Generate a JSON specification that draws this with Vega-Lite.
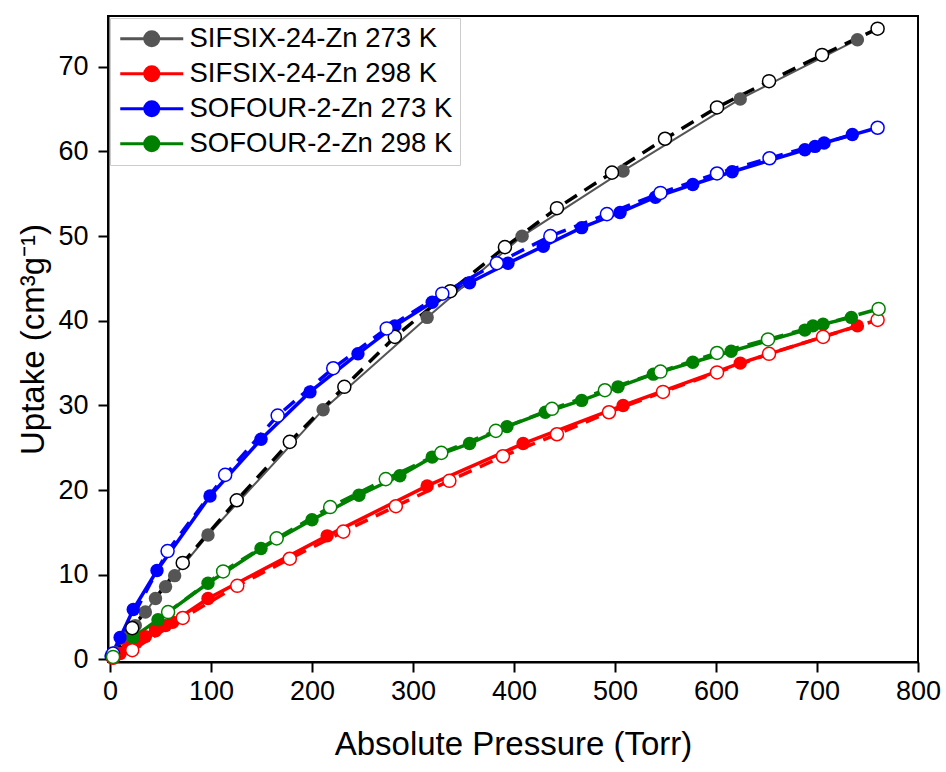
{
  "$schema": "https://vega.github.io/schema/vega-lite/v6.json",
  "width": 810,
  "height": 646,
  "autosize": {"type": "none"},
  "padding": {"left": 108, "top": 16, "right": 28, "bottom": 110},
  "background": "white",
  "config": {
    "font": "Liberation Sans",
    "view": {"stroke": "black", "strokeWidth": 2},
    "axis": {
      "grid": false, "domainColor": "black", "domainWidth": 2,
      "tickColor": "black", "tickWidth": 2, "tickSize": 10, "labelFlush": false,
      "labelFontSize": 27, "labelColor": "black", "labelFont": "Liberation Sans",
      "titleFontSize": 33, "titleColor": "black", "titleFont": "Liberation Sans", "titleFontWeight": "normal"
    },
    "legend": {
      "orient": "top-left", "offset": 2, "title": null,
      "labelFontSize": 27.5, "labelFont": "Liberation Sans", "labelColor": "black", "labelLimit": 500,
      "strokeColor": "#cccccc", "fillColor": "white", "padding": 7,
      "symbolType": "M-1,0H5M1.333,0A0.667,0.667 0 1,1 2.667,0A0.667,0.667 0 1,1 1.333,0Z",
      "symbolSize": 441, "symbolStrokeWidth": 3, "labelOffset": 45, "rowPadding": 6
    }
  },
  "data": {"values": [
    {"series": "SIFSIX-24-Zn 273 K", "branch": "ads", "pressure": 5, "uptake": 0.8},
    {"series": "SIFSIX-24-Zn 273 K", "branch": "ads", "pressure": 15, "uptake": 2.5},
    {"series": "SIFSIX-24-Zn 273 K", "branch": "ads", "pressure": 25, "uptake": 4.0},
    {"series": "SIFSIX-24-Zn 273 K", "branch": "ads", "pressure": 35, "uptake": 5.6},
    {"series": "SIFSIX-24-Zn 273 K", "branch": "ads", "pressure": 45, "uptake": 7.2},
    {"series": "SIFSIX-24-Zn 273 K", "branch": "ads", "pressure": 55, "uptake": 8.6},
    {"series": "SIFSIX-24-Zn 273 K", "branch": "ads", "pressure": 64, "uptake": 9.9},
    {"series": "SIFSIX-24-Zn 273 K", "branch": "ads", "pressure": 97, "uptake": 14.7},
    {"series": "SIFSIX-24-Zn 273 K", "branch": "ads", "pressure": 211, "uptake": 29.5},
    {"series": "SIFSIX-24-Zn 273 K", "branch": "ads", "pressure": 314, "uptake": 40.4},
    {"series": "SIFSIX-24-Zn 273 K", "branch": "ads", "pressure": 408, "uptake": 50.0},
    {"series": "SIFSIX-24-Zn 273 K", "branch": "ads", "pressure": 508, "uptake": 57.7},
    {"series": "SIFSIX-24-Zn 273 K", "branch": "ads", "pressure": 624, "uptake": 66.2},
    {"series": "SIFSIX-24-Zn 273 K", "branch": "ads", "pressure": 740, "uptake": 73.2},
    {"series": "SIFSIX-24-Zn 273 K", "branch": "des", "pressure": 3, "uptake": 0.3},
    {"series": "SIFSIX-24-Zn 273 K", "branch": "des", "pressure": 22, "uptake": 3.7},
    {"series": "SIFSIX-24-Zn 273 K", "branch": "des", "pressure": 72, "uptake": 11.4},
    {"series": "SIFSIX-24-Zn 273 K", "branch": "des", "pressure": 125.5, "uptake": 18.8},
    {"series": "SIFSIX-24-Zn 273 K", "branch": "des", "pressure": 178, "uptake": 25.7},
    {"series": "SIFSIX-24-Zn 273 K", "branch": "des", "pressure": 232, "uptake": 32.2},
    {"series": "SIFSIX-24-Zn 273 K", "branch": "des", "pressure": 282, "uptake": 38.1},
    {"series": "SIFSIX-24-Zn 273 K", "branch": "des", "pressure": 337, "uptake": 43.5},
    {"series": "SIFSIX-24-Zn 273 K", "branch": "des", "pressure": 391, "uptake": 48.7},
    {"series": "SIFSIX-24-Zn 273 K", "branch": "des", "pressure": 442.5, "uptake": 53.3},
    {"series": "SIFSIX-24-Zn 273 K", "branch": "des", "pressure": 497, "uptake": 57.5},
    {"series": "SIFSIX-24-Zn 273 K", "branch": "des", "pressure": 549.5, "uptake": 61.5},
    {"series": "SIFSIX-24-Zn 273 K", "branch": "des", "pressure": 601, "uptake": 65.2},
    {"series": "SIFSIX-24-Zn 273 K", "branch": "des", "pressure": 652.5, "uptake": 68.3},
    {"series": "SIFSIX-24-Zn 273 K", "branch": "des", "pressure": 705, "uptake": 71.4},
    {"series": "SIFSIX-24-Zn 273 K", "branch": "des", "pressure": 760, "uptake": 74.5},
    {"series": "SIFSIX-24-Zn 298 K", "branch": "ads", "pressure": 3, "uptake": 0.2},
    {"series": "SIFSIX-24-Zn 298 K", "branch": "ads", "pressure": 10, "uptake": 0.7},
    {"series": "SIFSIX-24-Zn 298 K", "branch": "ads", "pressure": 18, "uptake": 1.4},
    {"series": "SIFSIX-24-Zn 298 K", "branch": "ads", "pressure": 26, "uptake": 2.0},
    {"series": "SIFSIX-24-Zn 298 K", "branch": "ads", "pressure": 35, "uptake": 2.7},
    {"series": "SIFSIX-24-Zn 298 K", "branch": "ads", "pressure": 45, "uptake": 3.4},
    {"series": "SIFSIX-24-Zn 298 K", "branch": "ads", "pressure": 55, "uptake": 4.0},
    {"series": "SIFSIX-24-Zn 298 K", "branch": "ads", "pressure": 62, "uptake": 4.4},
    {"series": "SIFSIX-24-Zn 298 K", "branch": "ads", "pressure": 97, "uptake": 7.2},
    {"series": "SIFSIX-24-Zn 298 K", "branch": "ads", "pressure": 215, "uptake": 14.6},
    {"series": "SIFSIX-24-Zn 298 K", "branch": "ads", "pressure": 314, "uptake": 20.5},
    {"series": "SIFSIX-24-Zn 298 K", "branch": "ads", "pressure": 409, "uptake": 25.5},
    {"series": "SIFSIX-24-Zn 298 K", "branch": "ads", "pressure": 508, "uptake": 30.0},
    {"series": "SIFSIX-24-Zn 298 K", "branch": "ads", "pressure": 624, "uptake": 35.0},
    {"series": "SIFSIX-24-Zn 298 K", "branch": "ads", "pressure": 740, "uptake": 39.4},
    {"series": "SIFSIX-24-Zn 298 K", "branch": "des", "pressure": 3, "uptake": 0.2},
    {"series": "SIFSIX-24-Zn 298 K", "branch": "des", "pressure": 22, "uptake": 1.1},
    {"series": "SIFSIX-24-Zn 298 K", "branch": "des", "pressure": 72, "uptake": 4.9},
    {"series": "SIFSIX-24-Zn 298 K", "branch": "des", "pressure": 126, "uptake": 8.7},
    {"series": "SIFSIX-24-Zn 298 K", "branch": "des", "pressure": 178, "uptake": 11.9},
    {"series": "SIFSIX-24-Zn 298 K", "branch": "des", "pressure": 231, "uptake": 15.1},
    {"series": "SIFSIX-24-Zn 298 K", "branch": "des", "pressure": 283, "uptake": 18.1},
    {"series": "SIFSIX-24-Zn 298 K", "branch": "des", "pressure": 336, "uptake": 21.1},
    {"series": "SIFSIX-24-Zn 298 K", "branch": "des", "pressure": 389, "uptake": 24.0},
    {"series": "SIFSIX-24-Zn 298 K", "branch": "des", "pressure": 442.5, "uptake": 26.6},
    {"series": "SIFSIX-24-Zn 298 K", "branch": "des", "pressure": 494, "uptake": 29.2},
    {"series": "SIFSIX-24-Zn 298 K", "branch": "des", "pressure": 547.5, "uptake": 31.6},
    {"series": "SIFSIX-24-Zn 298 K", "branch": "des", "pressure": 601, "uptake": 33.9},
    {"series": "SIFSIX-24-Zn 298 K", "branch": "des", "pressure": 652.5, "uptake": 36.1},
    {"series": "SIFSIX-24-Zn 298 K", "branch": "des", "pressure": 706, "uptake": 38.1},
    {"series": "SIFSIX-24-Zn 298 K", "branch": "des", "pressure": 760, "uptake": 40.1},
    {"series": "SOFOUR-2-Zn 273 K", "branch": "ads", "pressure": 1, "uptake": 0.4},
    {"series": "SOFOUR-2-Zn 273 K", "branch": "ads", "pressure": 10, "uptake": 2.6},
    {"series": "SOFOUR-2-Zn 273 K", "branch": "ads", "pressure": 23, "uptake": 5.9},
    {"series": "SOFOUR-2-Zn 273 K", "branch": "ads", "pressure": 46.5, "uptake": 10.5},
    {"series": "SOFOUR-2-Zn 273 K", "branch": "ads", "pressure": 99, "uptake": 19.3},
    {"series": "SOFOUR-2-Zn 273 K", "branch": "ads", "pressure": 149.5, "uptake": 26.0},
    {"series": "SOFOUR-2-Zn 273 K", "branch": "ads", "pressure": 198, "uptake": 31.6},
    {"series": "SOFOUR-2-Zn 273 K", "branch": "ads", "pressure": 245.5, "uptake": 36.1},
    {"series": "SOFOUR-2-Zn 273 K", "branch": "ads", "pressure": 282, "uptake": 39.4},
    {"series": "SOFOUR-2-Zn 273 K", "branch": "ads", "pressure": 319, "uptake": 42.2},
    {"series": "SOFOUR-2-Zn 273 K", "branch": "ads", "pressure": 356, "uptake": 44.5},
    {"series": "SOFOUR-2-Zn 273 K", "branch": "ads", "pressure": 394, "uptake": 46.8},
    {"series": "SOFOUR-2-Zn 273 K", "branch": "ads", "pressure": 429, "uptake": 48.8},
    {"series": "SOFOUR-2-Zn 273 K", "branch": "ads", "pressure": 467, "uptake": 51.0},
    {"series": "SOFOUR-2-Zn 273 K", "branch": "ads", "pressure": 505, "uptake": 52.8},
    {"series": "SOFOUR-2-Zn 273 K", "branch": "ads", "pressure": 540, "uptake": 54.6},
    {"series": "SOFOUR-2-Zn 273 K", "branch": "ads", "pressure": 577, "uptake": 56.1},
    {"series": "SOFOUR-2-Zn 273 K", "branch": "ads", "pressure": 616, "uptake": 57.6},
    {"series": "SOFOUR-2-Zn 273 K", "branch": "ads", "pressure": 688, "uptake": 60.2},
    {"series": "SOFOUR-2-Zn 273 K", "branch": "ads", "pressure": 698, "uptake": 60.6},
    {"series": "SOFOUR-2-Zn 273 K", "branch": "ads", "pressure": 707, "uptake": 61.0},
    {"series": "SOFOUR-2-Zn 273 K", "branch": "ads", "pressure": 735, "uptake": 62.0},
    {"series": "SOFOUR-2-Zn 273 K", "branch": "des", "pressure": 3, "uptake": 0.7},
    {"series": "SOFOUR-2-Zn 273 K", "branch": "des", "pressure": 57, "uptake": 12.8},
    {"series": "SOFOUR-2-Zn 273 K", "branch": "des", "pressure": 114, "uptake": 21.8},
    {"series": "SOFOUR-2-Zn 273 K", "branch": "des", "pressure": 166, "uptake": 28.8},
    {"series": "SOFOUR-2-Zn 273 K", "branch": "des", "pressure": 221, "uptake": 34.4},
    {"series": "SOFOUR-2-Zn 273 K", "branch": "des", "pressure": 274, "uptake": 39.1},
    {"series": "SOFOUR-2-Zn 273 K", "branch": "des", "pressure": 329, "uptake": 43.2},
    {"series": "SOFOUR-2-Zn 273 K", "branch": "des", "pressure": 383, "uptake": 46.8},
    {"series": "SOFOUR-2-Zn 273 K", "branch": "des", "pressure": 436, "uptake": 50.0},
    {"series": "SOFOUR-2-Zn 273 K", "branch": "des", "pressure": 492, "uptake": 52.6},
    {"series": "SOFOUR-2-Zn 273 K", "branch": "des", "pressure": 545, "uptake": 55.1},
    {"series": "SOFOUR-2-Zn 273 K", "branch": "des", "pressure": 601, "uptake": 57.4},
    {"series": "SOFOUR-2-Zn 273 K", "branch": "des", "pressure": 653, "uptake": 59.2},
    {"series": "SOFOUR-2-Zn 273 K", "branch": "des", "pressure": 760, "uptake": 62.8},
    {"series": "SOFOUR-2-Zn 298 K", "branch": "ads", "pressure": 3, "uptake": 0.3},
    {"series": "SOFOUR-2-Zn 298 K", "branch": "ads", "pressure": 23, "uptake": 2.6},
    {"series": "SOFOUR-2-Zn 298 K", "branch": "ads", "pressure": 47.5, "uptake": 4.7},
    {"series": "SOFOUR-2-Zn 298 K", "branch": "ads", "pressure": 97, "uptake": 9.0},
    {"series": "SOFOUR-2-Zn 298 K", "branch": "ads", "pressure": 149.5, "uptake": 13.1},
    {"series": "SOFOUR-2-Zn 298 K", "branch": "ads", "pressure": 200, "uptake": 16.5},
    {"series": "SOFOUR-2-Zn 298 K", "branch": "ads", "pressure": 246.5, "uptake": 19.4},
    {"series": "SOFOUR-2-Zn 298 K", "branch": "ads", "pressure": 287, "uptake": 21.7},
    {"series": "SOFOUR-2-Zn 298 K", "branch": "ads", "pressure": 319, "uptake": 23.9},
    {"series": "SOFOUR-2-Zn 298 K", "branch": "ads", "pressure": 356, "uptake": 25.5},
    {"series": "SOFOUR-2-Zn 298 K", "branch": "ads", "pressure": 393, "uptake": 27.5},
    {"series": "SOFOUR-2-Zn 298 K", "branch": "ads", "pressure": 431, "uptake": 29.2},
    {"series": "SOFOUR-2-Zn 298 K", "branch": "ads", "pressure": 467, "uptake": 30.6},
    {"series": "SOFOUR-2-Zn 298 K", "branch": "ads", "pressure": 503, "uptake": 32.2},
    {"series": "SOFOUR-2-Zn 298 K", "branch": "ads", "pressure": 538, "uptake": 33.7},
    {"series": "SOFOUR-2-Zn 298 K", "branch": "ads", "pressure": 577, "uptake": 35.1},
    {"series": "SOFOUR-2-Zn 298 K", "branch": "ads", "pressure": 615, "uptake": 36.4},
    {"series": "SOFOUR-2-Zn 298 K", "branch": "ads", "pressure": 688, "uptake": 38.9},
    {"series": "SOFOUR-2-Zn 298 K", "branch": "ads", "pressure": 696, "uptake": 39.4},
    {"series": "SOFOUR-2-Zn 298 K", "branch": "ads", "pressure": 706, "uptake": 39.6},
    {"series": "SOFOUR-2-Zn 298 K", "branch": "ads", "pressure": 734, "uptake": 40.4},
    {"series": "SOFOUR-2-Zn 298 K", "branch": "des", "pressure": 3, "uptake": 0.3},
    {"series": "SOFOUR-2-Zn 298 K", "branch": "des", "pressure": 57.5, "uptake": 5.6},
    {"series": "SOFOUR-2-Zn 298 K", "branch": "des", "pressure": 112, "uptake": 10.4},
    {"series": "SOFOUR-2-Zn 298 K", "branch": "des", "pressure": 165, "uptake": 14.3},
    {"series": "SOFOUR-2-Zn 298 K", "branch": "des", "pressure": 218, "uptake": 18.0},
    {"series": "SOFOUR-2-Zn 298 K", "branch": "des", "pressure": 273, "uptake": 21.3},
    {"series": "SOFOUR-2-Zn 298 K", "branch": "des", "pressure": 328, "uptake": 24.4},
    {"series": "SOFOUR-2-Zn 298 K", "branch": "des", "pressure": 382, "uptake": 27.0},
    {"series": "SOFOUR-2-Zn 298 K", "branch": "des", "pressure": 437.6, "uptake": 29.6},
    {"series": "SOFOUR-2-Zn 298 K", "branch": "des", "pressure": 490, "uptake": 31.8},
    {"series": "SOFOUR-2-Zn 298 K", "branch": "des", "pressure": 545, "uptake": 34.0},
    {"series": "SOFOUR-2-Zn 298 K", "branch": "des", "pressure": 601, "uptake": 36.2},
    {"series": "SOFOUR-2-Zn 298 K", "branch": "des", "pressure": 651.5, "uptake": 37.8},
    {"series": "SOFOUR-2-Zn 298 K", "branch": "des", "pressure": 761, "uptake": 41.4}
  ]},
  "encoding": {
    "x": {
      "field": "pressure", "type": "quantitative",
      "scale": {"domain": [-2, 800], "nice": false, "zero": false},
      "axis": {"values": [0, 100, 200, 300, 400, 500, 600, 700, 800], "title": "Absolute Pressure (Torr)", "labelPadding": 6, "titlePadding": 24}
    },
    "y": {
      "field": "uptake", "type": "quantitative",
      "scale": {"domain": [-0.3, 76], "nice": false, "zero": false},
      "axis": {"values": [0, 10, 20, 30, 40, 50, 60, 70], "title": "Uptake (cm³g⁻¹)", "labelPadding": 10, "titlePadding": 7}
    }
  },
  "layer": [
    {
      "transform": [{"filter": "datum.branch === 'ads' && datum.series !== 'SIFSIX-24-Zn 273 K'"}],
      "mark": {"type": "line", "strokeWidth": 3.5},
      "encoding": {
        "color": {"field": "series", "type": "nominal",
          "scale": {"domain": ["SIFSIX-24-Zn 273 K", "SIFSIX-24-Zn 298 K", "SOFOUR-2-Zn 273 K", "SOFOUR-2-Zn 298 K"], "range": ["#555555", "#ff0000", "#0000ff", "#008000"]},
          "legend": {
            "encode": {"symbols": {"update": {
              "fill": {"scale": "color", "field": "value"},
              "stroke": {"scale": "color", "field": "value"},
              "strokeWidth": {"value": 3}
            }}}
          }}
      }
    },
    {
      "transform": [{"filter": "datum.branch === 'ads' && datum.series === 'SIFSIX-24-Zn 273 K'"}],
      "mark": {"type": "line", "strokeWidth": 2},
      "encoding": {"color": {"field": "series", "type": "nominal"}}
    },
    {
      "transform": [{"filter": "datum.branch === 'des'"}],
      "mark": {"type": "line", "strokeWidth": 3.5, "strokeDash": [14, 9]},
      "encoding": {
        "stroke": {"field": "series", "type": "nominal",
          "scale": {"domain": ["SIFSIX-24-Zn 273 K", "SIFSIX-24-Zn 298 K", "SOFOUR-2-Zn 273 K", "SOFOUR-2-Zn 298 K"], "range": ["#000000", "#ff0000", "#0000ff", "#008000"]},
          "legend": null}
      }
    },
    {
      "transform": [{"filter": "datum.branch === 'ads'"}],
      "mark": {"type": "point", "shape": "circle", "filled": true, "size": 180, "opacity": 1},
      "encoding": {"color": {"field": "series", "type": "nominal"}}
    },
    {
      "transform": [{"filter": "datum.branch === 'des'"}],
      "mark": {"type": "point", "shape": "circle", "filled": true, "fill": "white", "size": 170, "strokeWidth": 1.5, "opacity": 1},
      "encoding": {
        "stroke": {"field": "series", "type": "nominal", "legend": null}
      }
    }
  ]
}
